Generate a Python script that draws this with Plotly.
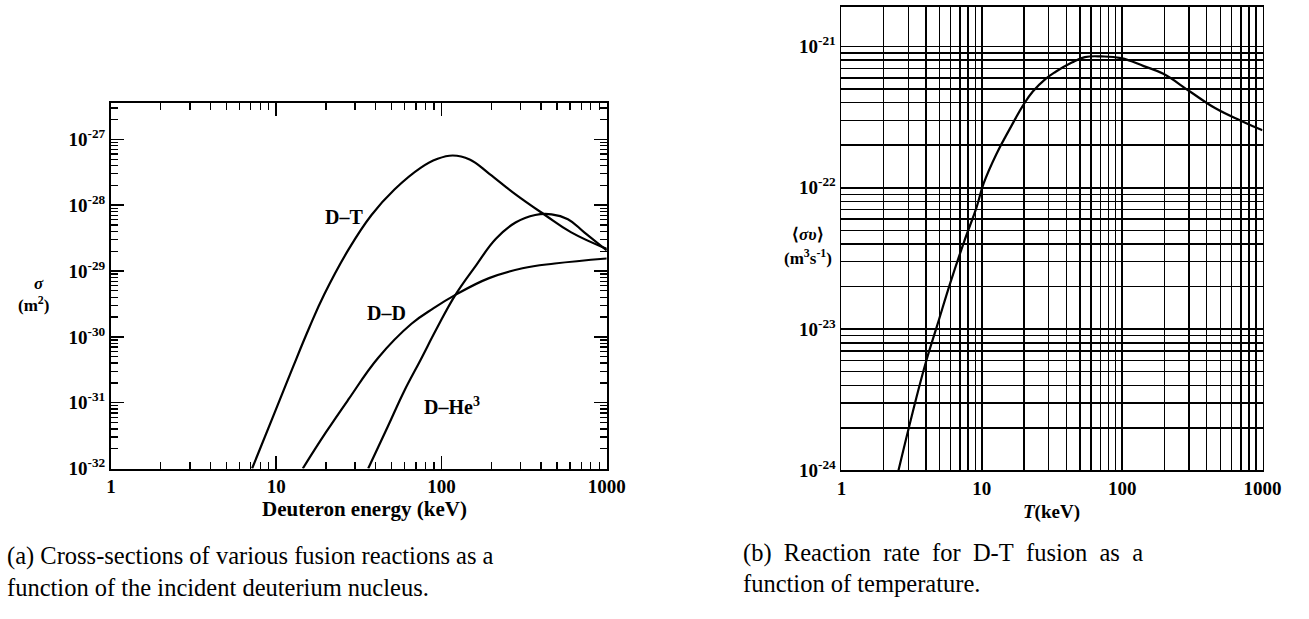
import plotly.graph_objects as go

# ---------------- data: (a) cross-sections (keV, m^2) ----------------
DT_E = [7.14, 9.6, 12.6, 15.9, 19.5, 27.4, 37.7, 51.9, 74.7, 93.9, 116.9, 148, 194.7, 280.5, 422.7, 609.5, 1000]
DT_SIGMA = [1.0e-32, 6.3e-32, 3.44e-31, 1.41e-30, 4.39e-30, 2.13e-29, 7.1e-29, 1.73e-28, 3.69e-28,
            5.02e-28, 5.68e-28, 4.94e-28, 3.0e-28, 1.46e-28, 7.1e-29, 3.86e-29, 2.17e-29]

DD_E = [14.47, 20.0, 27.4, 41.3, 65.8, 90.1, 120.6, 194, 309, 485, 1000]
DD_SIGMA = [1.0e-32, 3.56e-32, 1.13e-31, 4.78e-31, 1.58e-30, 2.75e-30, 4.3e-30, 7.8e-30,
            1.1e-29, 1.3e-29, 1.55e-29]

DHE_E = [36.0, 47.4, 59.5, 74.4, 93.9, 120.6, 162.3, 213.4, 280.5, 368.9, 463.4, 581.9, 731, 1000]
DHE_SIGMA = [1.0e-32, 4.39e-32, 1.51e-31, 4.39e-31, 1.36e-30, 4.24e-30, 1.23e-29, 3.08e-29,
             5.45e-29, 7.1e-29, 7.26e-29, 6.12e-29, 3.86e-29, 2.06e-29]

# ---------------- data: (b) D-T reaction rate (keV, m^3/s) ----------------
T_KEV = [2.55, 3.91, 4.84, 6.0, 7.45, 9.23, 10.3, 12.7, 15.8, 19.7, 23.1, 28.5, 33.4, 43.8,
         54.2, 71.3, 98.4, 142.5, 196.6, 304, 462, 713, 1000]
SIGMA_V = [1.0e-24, 5.4e-24, 1.08e-23, 2.16e-23, 4.1e-23, 7.4e-23, 1.07e-22, 1.73e-22, 2.6e-22,
           3.83e-22, 4.8e-22, 5.9e-22, 6.6e-22, 7.7e-22, 8.4e-22, 8.5e-22, 8.26e-22, 7.26e-22,
           6.4e-22, 4.8e-22, 3.65e-22, 2.96e-22, 2.55e-22]

# ---------------- tick labels ----------------
X_TICKS = [1, 10, 100, 1000]
X_TICKTEXT = ["1", "10", "100", "1000"]
YA_EXP = [-32, -31, -30, -29, -28, -27]
YB_EXP = [-24, -23, -22, -21]

W, H = 1309, 619


def px(x):
    return x / W


def py(y):
    return 1 - y / H


x_minor = [m * 10 ** k for k in range(0, 3) for m in range(2, 10)]
ya_minor = [m * 10.0 ** k for k in range(-32, -26) for m in range(2, 10)]
yb_minor = [m * 10.0 ** k for k in range(-24, -20) for m in range(2, 10)]

FONT = "Liberation Serif"
tickfont = dict(family=FONT, size=19, color="black", weight="bold")

fig = go.Figure()
line = dict(color="black", width=2.2, shape="spline", smoothing=1.2)
for xs, ys in [(DT_E, DT_SIGMA), (DD_E, DD_SIGMA), (DHE_E, DHE_SIGMA)]:
    fig.add_trace(go.Scatter(x=xs, y=ys, mode="lines", line=line, xaxis="x", yaxis="y",
                             hoverinfo="skip"))
fig.add_trace(go.Scatter(x=T_KEV, y=SIGMA_V, mode="lines", line=line, xaxis="x2", yaxis="y2",
                         hoverinfo="skip"))

common_a = dict(showline=True, linecolor="black", linewidth=2, mirror="allticks",
                ticks="inside", ticklen=13, tickwidth=1.6, tickcolor="black",
                showgrid=False, zeroline=False, tickfont=tickfont)
minor_a = dict(ticks="inside", ticklen=7, tickwidth=1.3, tickcolor="black")
GW = 1.5

fig.update_layout(
    width=W, height=H, autosize=False,
    margin=dict(l=0, r=0, t=0, b=0),
    paper_bgcolor="white", plot_bgcolor="white",
    showlegend=False, hovermode=False,
    xaxis=dict(type="log", range=[0, 3], domain=[px(108), px(613)], anchor="y",
               tickvals=X_TICKS, ticktext=X_TICKTEXT,
               minor=dict(tickvals=x_minor, **minor_a), **common_a),
    yaxis=dict(type="log", range=[-32, -26.45], domain=[py(477), py(105)], anchor="x",
               tickvals=[10.0 ** e for e in YA_EXP],
               ticktext=["10<sup>%d</sup>" % e for e in YA_EXP],
               minor=dict(tickvals=ya_minor, **minor_a), **common_a),
    xaxis2=dict(type="log", range=[0, 3], domain=[px(852), px(1281)], anchor="y2",
                tickvals=X_TICKS, ticktext=X_TICKTEXT,
                showline=True, linecolor="black", linewidth=1.8, mirror=True,
                ticks="", showgrid=True, gridcolor="black", gridwidth=GW, zeroline=False,
                minor=dict(tickvals=x_minor, showgrid=True, gridcolor="black", gridwidth=GW),
                tickfont=tickfont),
    yaxis2=dict(type="log", range=[-24, -20.72], domain=[py(479), py(7)], anchor="x2",
                tickvals=[10.0 ** e for e in YB_EXP],
                ticktext=["10<sup>%d</sup>" % e for e in YB_EXP],
                showline=True, linecolor="black", linewidth=1.8, mirror=True,
                ticks="", showgrid=True, gridcolor="black", gridwidth=GW, zeroline=False,
                minor=dict(tickvals=yb_minor, showgrid=True, gridcolor="black", gridwidth=GW),
                tickfont=tickfont),
)

bold = lambda s: dict(family=FONT, size=s, color="black", weight="bold")
ann = [
    # curve labels
    dict(x=px(345), y=py(221), text="D–T", font=bold(20)),
    dict(x=px(389), y=py(319), text="D–D", font=bold(20)),
    dict(x=px(455), y=py(413), text="D–He<sup>3</sup>", font=bold(20)),
    # axis titles (a)
    dict(x=px(366), y=py(518), text="Deuteron energy (keV)", font=bold(21)),
    dict(x=px(35), y=py(289), text="<i>σ</i>", font=bold(17)),
    dict(x=px(29), y=py(309), text="(m<sup>2</sup>)", font=bold(17)),
    # axis titles (b)
    dict(x=px(1066), y=py(521), text="<i>T</i>(keV)", font=bold(19)),
    dict(x=px(818), y=py(239), text="⟨<i>συ</i>⟩", font=bold(17)),
    dict(x=px(818), y=py(262), text="(m<sup>3</sup>s<sup>-1</sup>)", font=bold(17)),
]
for a in ann:
    a.update(xref="paper", yref="paper", showarrow=False, xanchor="center", yanchor="middle")

cap = dict(family=FONT, size=24.5, color="black")
captions = [
    (0, 566, "(a) Cross-sections of various fusion reactions as a"),
    (0, 598, "function of the incident deuterium nucleus."),
    (750, 563, "(b)  Reaction  rate  for  D-T  fusion  as  a"),
    (750, 594, "function of temperature."),
]
for x, y, t in captions:
    ann.append(dict(x=px(x), y=py(y), text=t.replace("  ", "&nbsp; "), font=cap,
                    xref="paper", yref="paper", showarrow=False,
                    xanchor="left", yanchor="middle"))

fig.update_layout(annotations=ann)
fig.write_html("out.html",
               config={"displayModeBar": False, "staticPlot": True},
               post_script="document.body.style.margin='0px';"
                           "document.body.style.overflow='hidden';")
